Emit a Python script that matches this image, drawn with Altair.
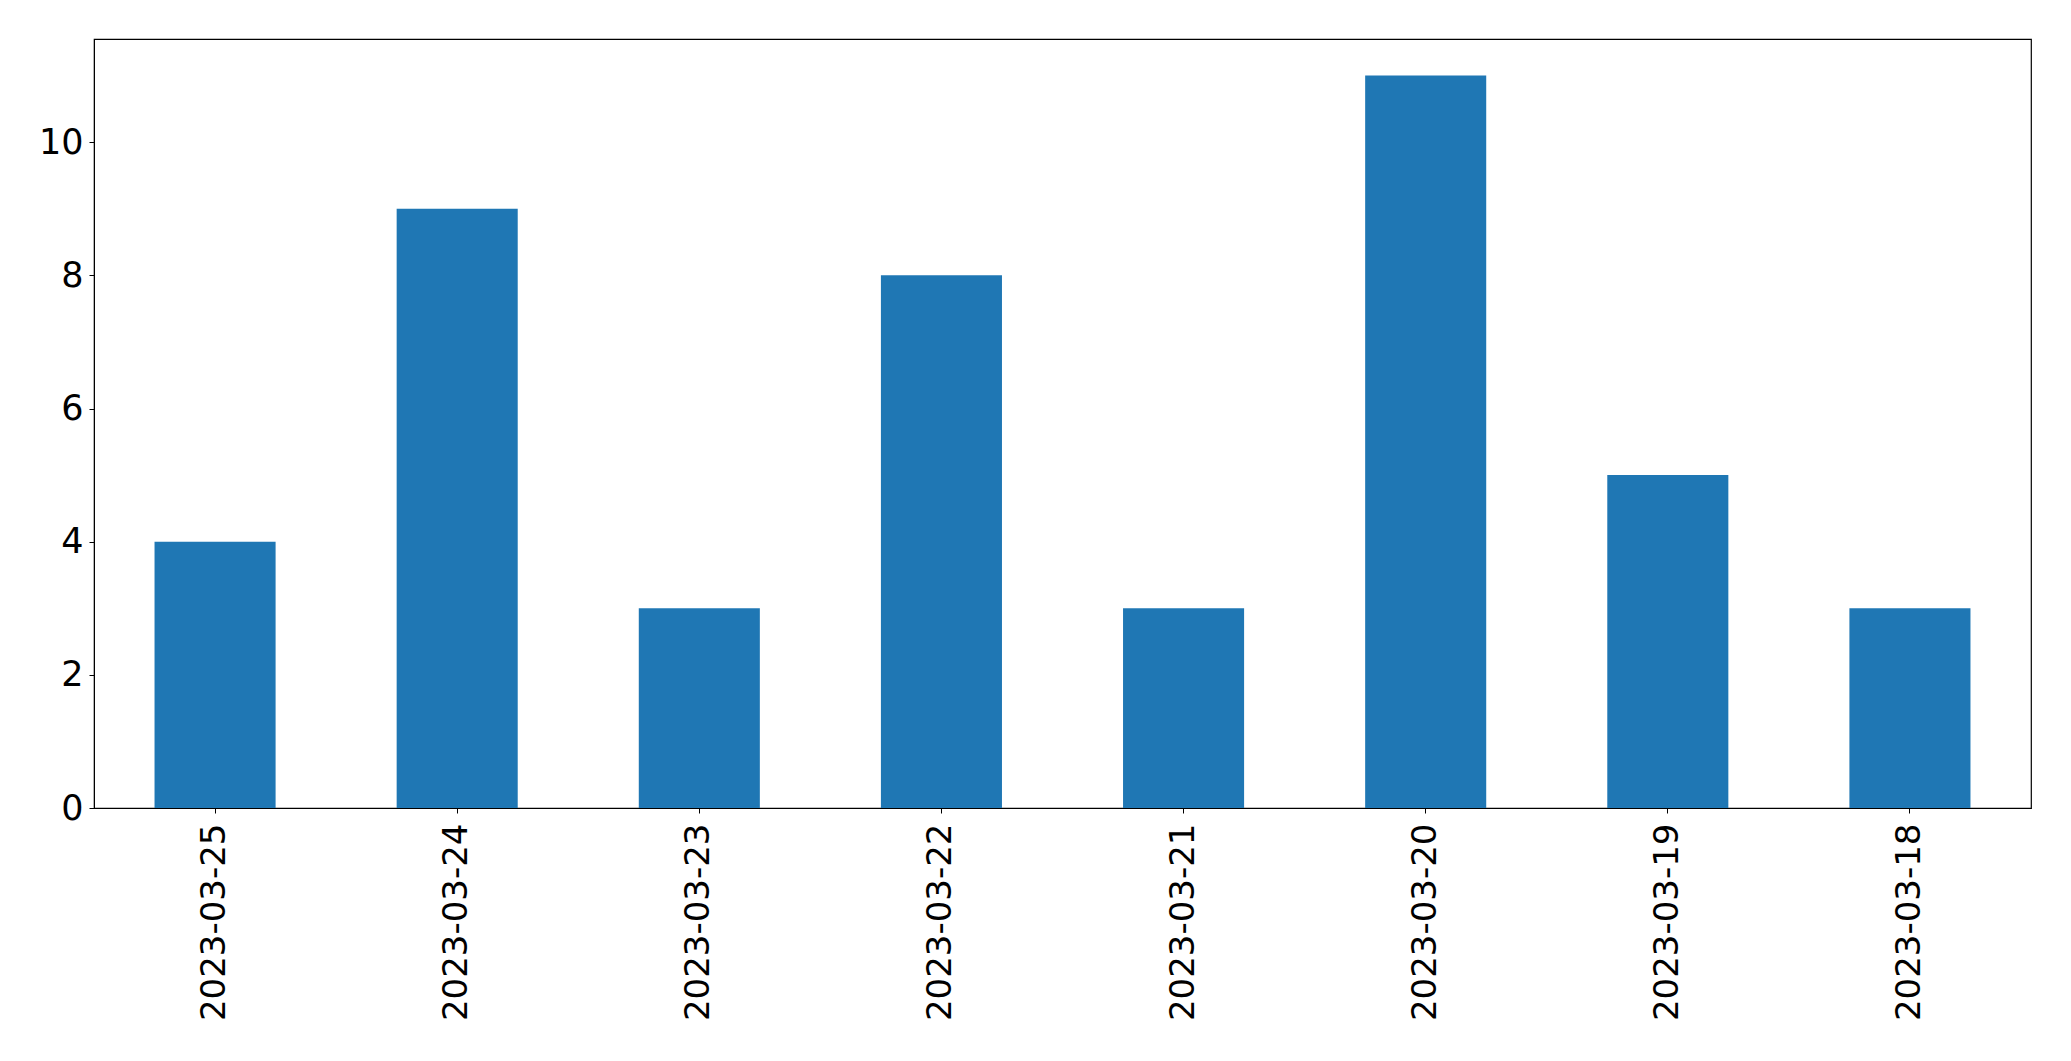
import altair as alt
import pandas as pd

dates = ["2023-03-25", "2023-03-24", "2023-03-23", "2023-03-22",
         "2023-03-21", "2023-03-20", "2023-03-19", "2023-03-18"]
counts = [4, 9, 3, 8, 3, 11, 5, 3]
y_ticks = [0, 2, 4, 6, 8, 10]

df = pd.DataFrame({"date": dates, "count": counts})

FONT = "DejaVu Sans"

chart = alt.Chart(df).mark_bar(color="#1f77b4").encode(
    x=alt.X("date:N", sort=dates, title=None,
            scale=alt.Scale(paddingInner=0.5, paddingOuter=0.25),
            axis=alt.Axis(labelAngle=270, labelFont=FONT, labelFontSize=34,
                          labelColor="black", tickColor="black", domainColor="black",
                          tickSize=5, labelPadding=10, labelLimit=0, grid=False)),
    y=alt.Y("count:Q", title=None,
            scale=alt.Scale(domain=[0, 11.55], nice=False, zero=True),
            axis=alt.Axis(values=y_ticks, labelFont=FONT, labelFontSize=35,
                          labelColor="black", tickColor="black", domainColor="black",
                          tickSize=5, labelPadding=6, grid=False)),
).properties(
    width=1937, height=769,
    autosize=alt.AutoSizeParams(type="none"),
    padding={"left": 86, "top": 31, "right": 30, "bottom": 240},
).configure_view(stroke="black", strokeWidth=1.2)

chart.save("out.html", embed_options={"renderer": "svg", "actions": False})
